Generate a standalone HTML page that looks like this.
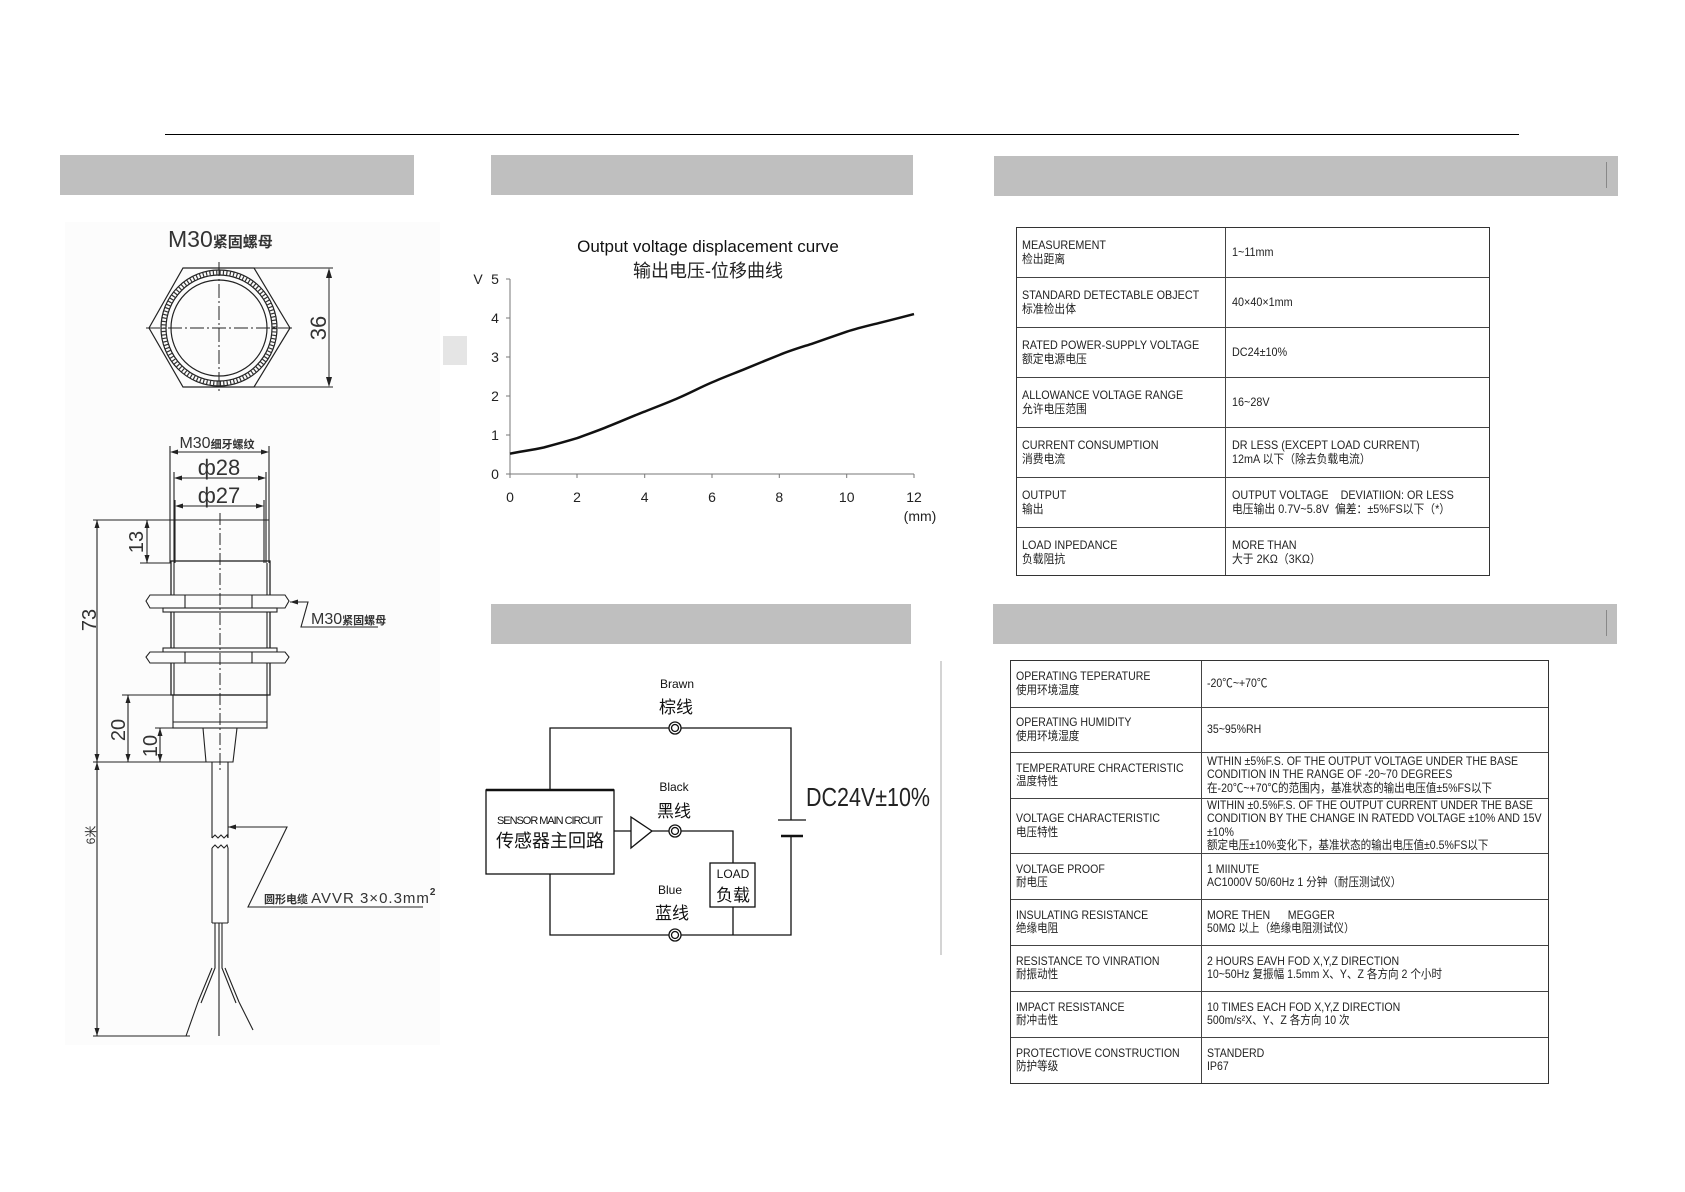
<!DOCTYPE html>
<html><head><meta charset="utf-8"><style>
html,body{margin:0;padding:0;background:#fff;}
body{width:1685px;height:1192px;position:relative;overflow:hidden;font-family:"Liberation Sans","Noto Sans CJK SC",sans-serif;}
.bar{position:absolute;background:#bfbfbf;}
.t{position:absolute;border:1.5px solid #333;box-sizing:border-box;}
.r{position:absolute;left:0;right:0;border-top:1.3px solid #444;}
.c{position:absolute;display:flex;align-items:center;font-size:12px;line-height:14px;color:#222;white-space:nowrap;}
.c>div{transform:scaleX(0.9);transform-origin:left center;}
.t2 .c{line-height:13.5px;}
.t2 .c>div{transform:scaleX(0.88);}
</style></head><body>
<div style="position:absolute;left:165px;top:134px;width:1354px;height:1.3px;background:#000"></div>
<div class="bar" style="left:60px;top:155px;width:354px;height:40px"></div>
<div class="bar" style="left:491px;top:155px;width:422px;height:40px"></div>
<div class="bar" style="left:994px;top:156px;width:624px;height:40px"></div>
<div style="position:absolute;left:1606px;top:162px;width:1px;height:26px;background:#888"></div>
<div class="bar" style="left:491px;top:604px;width:420px;height:40px"></div>
<div class="bar" style="left:993px;top:604px;width:624px;height:40px"></div>
<div style="position:absolute;left:1606px;top:610px;width:1px;height:26px;background:#888"></div>
<div style="position:absolute;left:65px;top:222px;width:375px;height:823px;background:#fcfcfc"></div>

<svg style="position:absolute;left:0;top:0" width="1685" height="1192" font-family="Liberation Sans, Noto Sans CJK SC, sans-serif">
<text x="168" y="247" font-size="23" fill="#333">M30<tspan font-size="15" font-weight="bold">紧固螺母</tspan></text>
<polygon points="183,268 254,268 290,328 254,387 183,387 149,328" fill="none" stroke="#222" stroke-width="1.2"/>
<circle cx="219" cy="328" r="58" fill="none" stroke="#222" stroke-width="1.2"/>
<circle cx="219" cy="328" r="55.5" fill="none" stroke="#333" stroke-width="4" stroke-dasharray="1.2 2.2"/>
<circle cx="219" cy="328" r="53" fill="none" stroke="#222" stroke-width="1.2"/>
<circle cx="219" cy="328" r="48" fill="none" stroke="#222" stroke-width="1.2"/>
<line x1="146" y1="328" x2="292" y2="328" stroke="#222" stroke-dasharray="14 3 2 3"/>
<line x1="219" y1="262" x2="219" y2="392" stroke="#222" stroke-dasharray="14 3 2 3"/>
<line x1="254" y1="268" x2="333" y2="268" stroke="#222"/>
<line x1="254" y1="387" x2="333" y2="387" stroke="#222"/>
<line x1="329" y1="270" x2="329" y2="385" stroke="#222"/>
<path d="M329,268 l-3,10 h6z M329,387 l-3,-10 h6z" fill="#222"/>
<text transform="translate(326,328) rotate(-90)" font-size="22" text-anchor="middle" fill="#333">36</text>
<text x="217" y="448" font-size="16" text-anchor="middle" fill="#333">M30<tspan font-size="11" font-weight="bold">细牙螺纹</tspan></text>
<g stroke="#222" stroke-width="1.1" fill="none">
<line x1="170" y1="446" x2="170" y2="563"/><line x1="269" y1="446" x2="269" y2="563"/>
<line x1="172" y1="452" x2="267" y2="452"/>
<line x1="174" y1="472" x2="174" y2="563"/><line x1="266" y1="472" x2="266" y2="563"/>
<line x1="176" y1="478" x2="264" y2="478"/>
<line x1="175" y1="500" x2="175" y2="563"/><line x1="264" y1="500" x2="264" y2="563"/>
<line x1="177" y1="506" x2="262" y2="506"/>
<line x1="170" y1="520" x2="269" y2="520"/>
<rect x="171" y="561" width="99" height="134" stroke-width="1.3"/>
<line x1="174" y1="563" x2="174" y2="695"/><line x1="267" y1="563" x2="267" y2="695"/>
<polygon points="150,595 285,595 289,601 285,608 150,608 146,601" fill="#fcfcfc"/>
<line x1="185" y1="595" x2="185" y2="608"/><line x1="252" y1="595" x2="252" y2="608"/>
<rect x="163" y="608" width="114" height="4" fill="#fcfcfc"/>
<rect x="163" y="648" width="114" height="4" fill="#fcfcfc"/>
<polygon points="150,652 285,652 289,657 285,663 150,663 146,657" fill="#fcfcfc"/>
<line x1="185" y1="652" x2="185" y2="663"/><line x1="252" y1="652" x2="252" y2="663"/>
<rect x="173" y="695" width="94" height="33"/>
<line x1="173" y1="722" x2="267" y2="722"/>
<polygon points="203,728 237,728 233,762 206,762"/>
<path d="M212,762 V838 M228,762 V838 M212,848 V923 M228,848 V923 M212,923 H228"/>
<path d="M212,838 l3,-3 l3,3 l3,-3 l3,3 l3,-3 l1,3 M212,848 l3,-3 l3,3 l3,-3 l3,3 l3,-3 l1,3"/>
<path d="M215,923 V968 L201,1003 M219,923 V1008 M222,923 V968 L236,1003 M212,968 L198,1002 M225,968 L239,1002"/>
<path d="M198,1002 L186,1036 M219,1008 V1036 M239,1002 L253,1030"/>
<line x1="93" y1="520" x2="170" y2="520"/><line x1="97" y1="520" x2="97" y2="1036"/>
<line x1="140" y1="563" x2="171" y2="563"/><line x1="147" y1="520" x2="147" y2="563"/>
<line x1="122" y1="695" x2="171" y2="695"/><line x1="128" y1="695" x2="128" y2="762"/>
<line x1="155" y1="728" x2="203" y2="728"/><line x1="160" y1="728" x2="160" y2="762"/>
<line x1="93" y1="762" x2="206" y2="762"/>
<line x1="93" y1="1036" x2="190" y2="1036"/>
<path d="M290,602 H308 L301,627 H378"/>
<path d="M228,827 H287 L248,907 H423"/>
</g>
<line x1="220" y1="513" x2="220" y2="770" stroke="#222" stroke-dasharray="12 3 2 3"/>
<g fill="#222">
<path d="M170,452 l8,-2.5 v5z M269,452 l-8,-2.5 v5z M174,478 l8,-2.5 v5z M266,478 l-8,-2.5 v5z M175,506 l8,-2.5 v5z M264,506 l-8,-2.5 v5z"/>
<path d="M97,520 l-2.5,8 h5z M97,762 l-2.5,-8 h5z M97,762 l-2.5,8 h5z M97,1036 l-2.5,-8 h5z"/>
<path d="M147,520 l-2.5,8 h5z M147,563 l-2.5,-8 h5z M128,695 l-2.5,8 h5z M128,762 l-2.5,-8 h5z M160,728 l-2.5,8 h5z M160,762 l-2.5,-8 h5z"/>
<path d="M290,602 l8,-2.5 v5z M228,827 l8,-2.5 v5z"/>
</g>
<g fill="#333">
<text transform="translate(96,620) rotate(-90)" font-size="20" text-anchor="middle">73</text>
<text transform="translate(143,542) rotate(-90)" font-size="20" text-anchor="middle">13</text>
<text transform="translate(125,730) rotate(-90)" font-size="20" text-anchor="middle">20</text>
<text transform="translate(157,746) rotate(-90)" font-size="20" text-anchor="middle">10</text>
<text transform="translate(95,835) rotate(-90)" font-size="12" text-anchor="middle">6米</text>
<text x="219" y="475" font-size="22" text-anchor="middle">ф28</text>
<text x="219" y="503" font-size="22" text-anchor="middle">ф27</text>
<text x="311" y="624" font-size="16">M30<tspan font-size="11" font-weight="bold">紧固螺母</tspan></text>
<text x="264" y="903" font-size="11" font-weight="bold">圆形电缆 <tspan font-size="15" font-weight="normal" letter-spacing="1">AVVR 3×0.3mm</tspan><tspan font-size="10" dy="-8">2</tspan></text>
</g>

<rect x="443" y="336" width="24" height="29" fill="#e5e5e5"/>
<text x="708" y="252" font-size="17" text-anchor="middle" fill="#111">Output voltage displacement curve</text>
<text x="708" y="277" font-size="18" text-anchor="middle" fill="#222">输出电压-位移曲线</text>
<g stroke="#777" stroke-width="1">
<line x1="510" y1="279" x2="510" y2="478"/><line x1="506" y1="474" x2="914" y2="474"/>
<path d="M506,279 h4 M506,318 h4 M506,357 h4 M506,396 h4 M506,435 h4"/>
<path d="M577,474 v4 M644.7,474 v4 M712,474 v4 M779.3,474 v4 M846.7,474 v4 M914,474 v4"/>
</g>
<g font-size="14" fill="#222" text-anchor="middle">
<text x="478" y="284">V</text>
<text x="495" y="284">5</text><text x="495" y="323">4</text><text x="495" y="362">3</text><text x="495" y="401">2</text><text x="495" y="440">1</text><text x="495" y="479">0</text>
<text x="510" y="502">0</text><text x="577" y="502">2</text><text x="644.7" y="502">4</text><text x="712" y="502">6</text><text x="779.3" y="502">8</text><text x="846.7" y="502">10</text><text x="914" y="502">12</text>
<text x="920" y="521">(mm)</text>
</g>
<path d="M510,453.7 C521,451.5 532,450 543.7,447.5 C555,444.5 566,441.5 577.3,438.1 C588,434 600,430 611,425.3 C622,421 633,416 644.7,411.6 C656,407 667,403 678.3,398 C690,393 700,387.5 712,382.4 C723,377.5 734,373.5 745.7,368.7 C757,364 768,359.5 779.3,355 C790,350.5 802,347 813,343.4 C824,339.5 836,335.5 846.7,331.7 C858,328 869,325.5 880.3,322.7 C891,320 903,317 914,314.1" fill="none" stroke="#111" stroke-width="2.5"/>

<g stroke="#111" stroke-width="1.3" fill="none">
<path d="M550,790 V728 H669 M681,728 H791 V820 M791,836 V935 H681 M669,935 H550 V874"/>
<rect x="486" y="790" width="128" height="84"/>
<line x1="486" y1="790" x2="614" y2="790" stroke-width="2.5"/>
<path d="M614,831 H631 M652,831 H669 M681,831 H733 V863 M733,907 V935"/>
<polygon points="631,817 652,831 631,848"/>
<rect x="710" y="863" width="45" height="44"/>
<line x1="778" y1="820" x2="806" y2="820"/>
<line x1="781" y1="836" x2="803" y2="836" stroke-width="2.5"/>
<circle cx="675" cy="728" r="6"/><circle cx="675" cy="728" r="3.5"/>
<circle cx="675" cy="831" r="6"/><circle cx="675" cy="831" r="3.5"/>
<circle cx="675" cy="935" r="6"/><circle cx="675" cy="935" r="3.5"/>
</g>
<line x1="941" y1="661" x2="941" y2="955" stroke="#aaa" stroke-width="1"/>
<g fill="#111" text-anchor="middle">
<text x="677" y="688" font-size="12">Brawn</text>
<text x="676" y="713" font-size="17">棕线</text>
<text x="674" y="791" font-size="12">Black</text>
<text x="674" y="817" font-size="17">黑线</text>
<text x="670" y="894" font-size="12">Blue</text>
<text x="672" y="919" font-size="17">蓝线</text>
<text x="550" y="824" font-size="11" textLength="106">SENSOR MAIN CIRCUIT</text>
<text x="550" y="847" font-size="18">传感器主回路</text>
<text x="733" y="878" font-size="12">LOAD</text>
<text x="733" y="901" font-size="17">负载</text>
</g>
<text x="806" y="806" font-size="26" fill="#222" textLength="124" lengthAdjust="spacingAndGlyphs">DC24V±10%</text>
</svg>

<div class="t" style="left:1016px;top:227px;width:474px;height:349px">
<div class="r" style="top:49px"></div><div class="r" style="top:99px"></div><div class="r" style="top:149px"></div><div class="r" style="top:199px"></div><div class="r" style="top:249px"></div><div class="r" style="top:299px"></div>
<div style="position:absolute;left:208px;top:0;bottom:0;border-left:1.3px solid #444"></div>
</div>
<div class="c" style="left:1022px;top:227px;height:50px"><div>MEASUREMENT<br>检出距离</div></div>
<div class="c" style="left:1232px;top:227px;height:50px"><div>1~11mm</div></div>
<div class="c" style="left:1022px;top:277px;height:50px"><div>STANDARD DETECTABLE OBJECT<br>标准检出体</div></div>
<div class="c" style="left:1232px;top:277px;height:50px"><div>40×40×1mm</div></div>
<div class="c" style="left:1022px;top:327px;height:50px"><div>RATED POWER-SUPPLY VOLTAGE<br>额定电源电压</div></div>
<div class="c" style="left:1232px;top:327px;height:50px"><div>DC24±10%</div></div>
<div class="c" style="left:1022px;top:377px;height:50px"><div>ALLOWANCE VOLTAGE RANGE<br>允许电压范围</div></div>
<div class="c" style="left:1232px;top:377px;height:50px"><div>16~28V</div></div>
<div class="c" style="left:1022px;top:427px;height:50px"><div>CURRENT CONSUMPTION<br>消费电流</div></div>
<div class="c" style="left:1232px;top:427px;height:50px"><div>DR LESS (EXCEPT LOAD CURRENT)<br>12mA 以下（除去负载电流）</div></div>
<div class="c" style="left:1022px;top:477px;height:50px"><div>OUTPUT<br>输出</div></div>
<div class="c" style="left:1232px;top:477px;height:50px"><div>OUTPUT VOLTAGE &nbsp;&nbsp;&nbsp;DEVIATIION: OR LESS<br>电压输出 0.7V~5.8V &nbsp;偏差：±5%FS以下（*）</div></div>
<div class="c" style="left:1022px;top:527px;height:49px"><div>LOAD INPEDANCE<br>负载阻抗</div></div>
<div class="c" style="left:1232px;top:527px;height:49px"><div>MORE THAN<br>大于 2KΩ（3KΩ）</div></div>

<div class="t" style="left:1010px;top:660px;width:539px;height:424px">
<div class="r" style="top:46px"></div><div class="r" style="top:91px"></div><div class="r" style="top:137px"></div><div class="r" style="top:192px"></div><div class="r" style="top:238px"></div><div class="r" style="top:284px"></div><div class="r" style="top:330px"></div><div class="r" style="top:376px"></div>
<div style="position:absolute;left:190px;top:0;bottom:0;border-left:1.3px solid #444"></div>
</div>
<div class="t2">
<div class="c" style="left:1016px;top:660px;height:47px"><div>OPERATING TEPERATURE<br>使用环境温度</div></div>
<div class="c" style="left:1207px;top:660px;height:47px"><div>-20℃~+70℃</div></div>
<div class="c" style="left:1016px;top:707px;height:45px"><div>OPERATING HUMIDITY<br>使用环境湿度</div></div>
<div class="c" style="left:1207px;top:707px;height:45px"><div>35~95%RH</div></div>
<div class="c" style="left:1016px;top:752px;height:46px"><div>TEMPERATURE CHRACTERISTIC<br>温度特性</div></div>
<div class="c" style="left:1207px;top:752px;height:46px"><div>WTHIN ±5%F.S. OF THE OUTPUT VOLTAGE UNDER THE BASE<br>CONDITION IN THE RANGE OF -20~70 DEGREES<br>在-20℃~+70℃的范围内，基准状态的输出电压值±5%FS以下</div></div>
<div class="c" style="left:1016px;top:798px;height:55px"><div>VOLTAGE CHARACTERISTIC<br>电压特性</div></div>
<div class="c" style="left:1207px;top:798px;height:55px"><div>WITHIN ±0.5%F.S. OF THE OUTPUT CURRENT UNDER THE BASE<br>CONDITION BY THE CHANGE IN RATEDD VOLTAGE ±10% AND 15V<br>±10%<br>额定电压±10%变化下，基准状态的输出电压值±0.5%FS以下</div></div>
<div class="c" style="left:1016px;top:853px;height:46px"><div>VOLTAGE PROOF<br>耐电压</div></div>
<div class="c" style="left:1207px;top:853px;height:46px"><div>1 MIINUTE<br>AC1000V 50/60Hz 1 分钟（耐压测试仪）</div></div>
<div class="c" style="left:1016px;top:899px;height:46px"><div>INSULATING RESISTANCE<br>绝缘电阻</div></div>
<div class="c" style="left:1207px;top:899px;height:46px"><div>MORE THEN &nbsp;&nbsp;&nbsp;&nbsp;&nbsp;MEGGER<br>50MΩ 以上（绝缘电阻测试仪）</div></div>
<div class="c" style="left:1016px;top:945px;height:46px"><div>RESISTANCE TO VINRATION<br>耐振动性</div></div>
<div class="c" style="left:1207px;top:945px;height:46px"><div>2 HOURS EAVH FOD X,Y,Z DIRECTION<br>10~50Hz 复振幅 1.5mm X、Y、Z 各方向 2 个小时</div></div>
<div class="c" style="left:1016px;top:991px;height:46px"><div>IMPACT RESISTANCE<br>耐冲击性</div></div>
<div class="c" style="left:1207px;top:991px;height:46px"><div>10 TIMES EACH FOD X,Y,Z DIRECTION<br>500m/s²X、Y、Z 各方向 10 次</div></div>
<div class="c" style="left:1016px;top:1037px;height:46px"><div>PROTECTIOVE CONSTRUCTION<br>防护等级</div></div>
<div class="c" style="left:1207px;top:1037px;height:46px"><div>STANDERD<br>IP67</div></div>
</div>
</body></html>
